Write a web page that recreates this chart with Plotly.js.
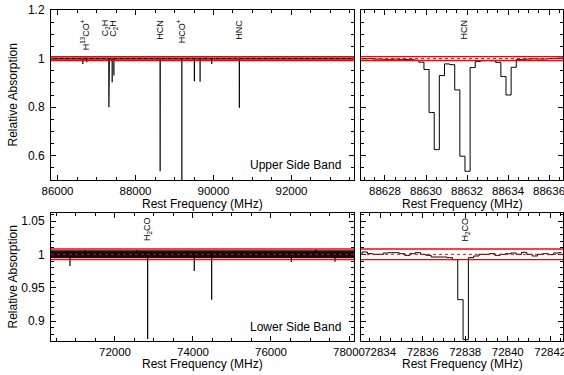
<!DOCTYPE html>
<html><head><meta charset="utf-8">
<script src="https://cdn.plot.ly/plotly-3.0.1.min.js"></script>
<style>html,body{margin:0;padding:0;background:#fff}#chart{width:564px;height:375px}</style>
</head><body><div id="chart"></div>
<script>
// ---------- data ----------
// Upper side band: wide spectrum, absorption features (MHz, relative absorption)
const usbBand = [85833, 93603];
const usbLineFreq  = [86650, 86754, 87317, 87329, 87402, 87446, 88630.5, 88631.8, 88633.9, 89188.5, 89510, 89656, 89954, 90663.6];
const usbLineDepth = [0.978, 0.985, 0.800, 0.960, 0.902, 0.930, 0.625, 0.536, 0.850, 0.450, 0.907, 0.905, 0.978, 0.797];
const usbLabelFreq = [86710, 87250, 87440, 88632, 89188.5, 90663.6];
const usbLabelText = ['H<sup>13</sup>CO<sup>+</sup>', 'C<sub>2</sub>H', 'C<sub>2</sub>H', 'HCN', 'HCO<sup>+</sup>', 'HNC'];
const usbNoise = 0.004;

// Lower side band
const lsbBand = [70360, 78128];
const lsbLineFreq  = [70846, 71230, 72560, 72838, 74033, 74479, 76522, 77150, 77641];
const lsbLineDepth = [0.9825, 1.006, 1.006, 0.873, 0.975, 0.932, 0.9885, 1.008, 0.989];
const lsbLabelFreq = [72838];
const lsbLabelText = ['H<sub>2</sub>CO'];
const lsbNoise = 0.006;

// HCN zoom: channel centres (MHz) and values
const hcnChanFreq = [88626.775, 88627.025, 88627.275, 88627.525, 88627.775, 88628.025, 88628.275, 88628.525,
  88628.775, 88629.025, 88629.275, 88629.525, 88629.775, 88630.025, 88630.275, 88630.525, 88630.775,
  88631.025, 88631.275, 88631.525, 88631.775, 88632.025, 88632.275, 88632.525, 88632.775, 88633.025,
  88633.275, 88633.525, 88633.775, 88634.025, 88634.275, 88634.525, 88634.775, 88635.025, 88635.275,
  88635.525, 88635.775, 88636.025, 88636.275, 88636.525, 88636.775];
const hcnChanValue = [1.000, 0.999, 1.000, 0.998, 0.998, 0.997, 0.997, 0.998, 0.997, 0.996, 0.997, 0.993,
  0.985, 0.955, 0.778, 0.625, 0.930, 0.978, 0.975, 0.871, 0.598, 0.536, 0.963, 0.988, 0.991, 0.992,
  0.991, 0.984, 0.926, 0.850, 0.964, 0.996, 0.997, 0.998, 0.999, 0.998, 0.998, 1.000, 1.001, 1.002, 1.002];
const hcnRange = [88626.83, 88636.68];
const hcnLabelFreq = [88631.9];
const hcnLabelText = ['HCN'];

// H2CO zoom
const h2coChanFreq = [72833.025, 72833.275, 72833.525, 72833.775, 72834.025, 72834.275, 72834.525, 72834.775,
  72835.025, 72835.275, 72835.525, 72835.775, 72836.025, 72836.275, 72836.525, 72836.775, 72837.025,
  72837.275, 72837.525, 72837.775, 72838.025, 72838.275, 72838.525, 72838.775, 72839.025, 72839.275,
  72839.525, 72839.775, 72840.025, 72840.275, 72840.525, 72840.775, 72841.025, 72841.275, 72841.525,
  72841.775, 72842.025, 72842.275, 72842.525];
const h2coChanValue = [1.000, 1.0035, 1.001, 1.000, 1.000, 1.002, 1.0025, 1.0025, 1.001, 0.9985, 1.001, 1.0025,
  1.000, 0.9985, 0.996, 0.996, 0.996, 0.995, 0.992, 0.932, 0.872, 0.995, 0.9975, 1.000, 1.000, 1.001,
  0.9985, 1.000, 1.001, 1.002, 1.000, 1.003, 1.000, 0.9975, 1.000, 1.001, 0.9995, 1.002, 1.0025];
const h2coRange = [72833.1, 72842.6];
const h2coLabelFreq = [72838];
const h2coLabelText = ['H<sub>2</sub>CO'];

// thresholds drawn in red
const upperLimit = 1.008, lowerLimit = 0.992, unity = 1.0;

// tick labels
const usbTicks = [86000, 88000, 90000, 92000];
const lsbTicks = [72000, 74000, 76000, 78000];
const hcnTicks = [88628, 88630, 88632, 88634, 88636];
const h2coTicks = [72834, 72836, 72838, 72840, 72842];
const topYTicks = [0.6, 0.8, 1, 1.2];
const botYTicks = [0.9, 0.95, 1, 1.05];

// ---------- build ----------
function spikes(freqs, depths, band) {
  const idx = freqs.map((f, i) => i).sort((a, b) => freqs[a] - freqs[b]);
  const x = [band[0]], y = [unity];
  idx.forEach(i => { x.push(freqs[i], freqs[i], freqs[i]); y.push(unity, depths[i], unity); });
  x.push(band[1]); y.push(unity);
  return {x, y};
}
const FONT = 'Liberation Sans, Arial, Helvetica, sans-serif';
const s1 = spikes(usbLineFreq, usbLineDepth, usbBand);
const s3 = spikes(lsbLineFreq, lsbLineDepth, lsbBand);

const traces = [
  {x: s1.x, y: s1.y, xaxis: 'x', yaxis: 'y', mode: 'lines', line: {color: '#000', width: 1.2}, hoverinfo: 'skip'},
  {x: hcnChanFreq, y: hcnChanValue, xaxis: 'x2', yaxis: 'y2', mode: 'lines', line: {color: '#000', width: 1, shape: 'hvh'}, hoverinfo: 'skip'},
  {x: s3.x, y: s3.y, xaxis: 'x3', yaxis: 'y3', mode: 'lines', line: {color: '#000', width: 1.2}, hoverinfo: 'skip'},
  {x: h2coChanFreq, y: h2coChanValue, xaxis: 'x4', yaxis: 'y4', mode: 'lines', line: {color: '#000', width: 1, shape: 'hvh'}, hoverinfo: 'skip'}
];

function xax(range, ticks, minor, dom, anchor) {
  return {domain: dom, anchor: anchor, range: range, tickmode: 'array', tickvals: ticks, ticktext: ticks.map(String),
    ticks: 'inside', ticklen: 5, tickcolor: '#000', tickwidth: 1, mirror: 'allticks', showline: true, linecolor: '#000', linewidth: 1,
    showgrid: false, zeroline: false, tickfont: {family: FONT, size: 11.5, color: '#000'}, ticklabeloverflow: 'allow',
    minor: {dtick: minor, ticks: 'inside', ticklen: 3, tickcolor: '#000', showgrid: false}};
}
function yax(range, ticks, minor, dom, anchor, labels) {
  return {domain: dom, anchor: anchor, range: range, tickmode: 'array', tickvals: ticks, ticktext: ticks.map(String),
    ticks: 'inside', ticklen: 5, tickcolor: '#000', tickwidth: 1, mirror: 'allticks', showline: true, linecolor: '#000', linewidth: 1,
    showgrid: false, zeroline: false, showticklabels: labels, tickfont: {family: FONT, size: 12, color: '#000'}, ticklabelstandoff: 3,
    minor: {dtick: minor, tick0: 0, ticks: 'inside', ticklen: 3, tickcolor: '#000', showgrid: false}};
}
const W = 564, H = 375;
const dxL = [51 / W, 354 / W], dxR = [361 / W, 563 / W];
const dyT = [1 - 180 / H, 1 - 10 / H], dyB = [1 - 341 / H, 1 - 213 / H];
const topYRange = [0.5, 1.2], botYRange = [0.87, 1.062];

const shapes = [];
function refLines(xr, yr, noise) {
  if (noise) shapes.push({type: 'rect', xref: xr + ' domain', yref: yr, x0: 0, x1: 1, y0: unity - noise, y1: unity + noise,
    fillcolor: '#111', line: {width: 0}, layer: 'below'});
  [upperLimit, lowerLimit].forEach(v => shapes.push({type: 'line', xref: xr + ' domain', yref: yr, x0: 0, x1: 1, y0: v, y1: v,
    line: {color: '#ff0000', width: 1.3}, layer: 'above'}));
  shapes.push({type: 'line', xref: xr + ' domain', yref: yr, x0: 0, x1: 1, y0: unity, y1: unity,
    line: {color: '#ff0000', width: 1, dash: 'dot'}, layer: 'above'});
}
refLines('x', 'y', usbNoise);
refLines('x2', 'y2', 0);
refLines('x3', 'y3', lsbNoise);
refLines('x4', 'y4', 0);

const annotations = [];
function labels(freqs, texts, xr, yr, ytop) {
  freqs.forEach((f, i) => annotations.push({x: f, y: ytop, xref: xr, yref: yr, text: texts[i], textangle: -90,
    showarrow: false, xanchor: 'center', yanchor: 'top', font: {family: FONT, size: 9, color: '#000'}, borderpad: 0}));
}
labels(usbLabelFreq, usbLabelText, 'x', 'y', 1.165);
labels(hcnLabelFreq, hcnLabelText, 'x2', 'y2', 1.165);
labels(lsbLabelFreq, lsbLabelText, 'x3', 'y3', 1.057);
labels(h2coLabelFreq, h2coLabelText, 'x4', 'y4', 1.057);

function txt(t, x, y, opts) {
  annotations.push(Object.assign({text: t, x: x, y: y, xref: 'paper', yref: 'paper', showarrow: false,
    font: {family: FONT, size: 12, color: '#000'}}, opts));
}
const xTitle = 'Rest Frequency (MHz)', yTitle = 'Relative Absorption';
txt(xTitle, (dxL[0] + dxL[1]) / 2, 1 - 204 / H, {xanchor: 'center', yanchor: 'middle'});
txt(xTitle, (dxR[0] + dxR[1]) / 2, 1 - 204 / H, {xanchor: 'center', yanchor: 'middle'});
txt(xTitle, (dxL[0] + dxL[1]) / 2, 1 - 364 / H, {xanchor: 'center', yanchor: 'middle'});
txt(xTitle, (dxR[0] + dxR[1]) / 2, 1 - 364 / H, {xanchor: 'center', yanchor: 'middle'});
txt(yTitle, 12.5 / W, (dyT[0] + dyT[1]) / 2, {xanchor: 'center', yanchor: 'middle', textangle: -90});
txt(yTitle, 12.5 / W, (dyB[0] + dyB[1]) / 2, {xanchor: 'center', yanchor: 'middle', textangle: -90});
txt('Upper Side Band', 343 / W, 1 - 165 / H, {xanchor: 'right', yanchor: 'middle'});
txt('Lower Side Band', 343 / W, 1 - 326.5 / H, {xanchor: 'right', yanchor: 'middle'});

const layout = {
  width: W, height: H, margin: {l: 0, r: 0, t: 0, b: 0}, showlegend: false,
  paper_bgcolor: '#fff', plot_bgcolor: '#fff',
  xaxis: xax(usbBand, usbTicks, 500, dxL, 'y'),
  yaxis: yax(topYRange, topYTicks, 0.05, dyT, 'x', true),
  xaxis2: xax(hcnRange, hcnTicks, 0.5, dxR, 'y2'),
  yaxis2: yax(topYRange, topYTicks, 0.05, dyT, 'x2', false),
  xaxis3: xax(lsbBand, lsbTicks, 500, dxL, 'y3'),
  yaxis3: yax(botYRange, botYTicks, 0.01, dyB, 'x3', true),
  xaxis4: xax(h2coRange, h2coTicks, 0.5, dxR, 'y4'),
  yaxis4: yax(botYRange, botYTicks, 0.01, dyB, 'x4', false),
  shapes: shapes, annotations: annotations
};
Plotly.newPlot('chart', traces, layout, {staticPlot: true, displayModeBar: false});
</script></body></html>
